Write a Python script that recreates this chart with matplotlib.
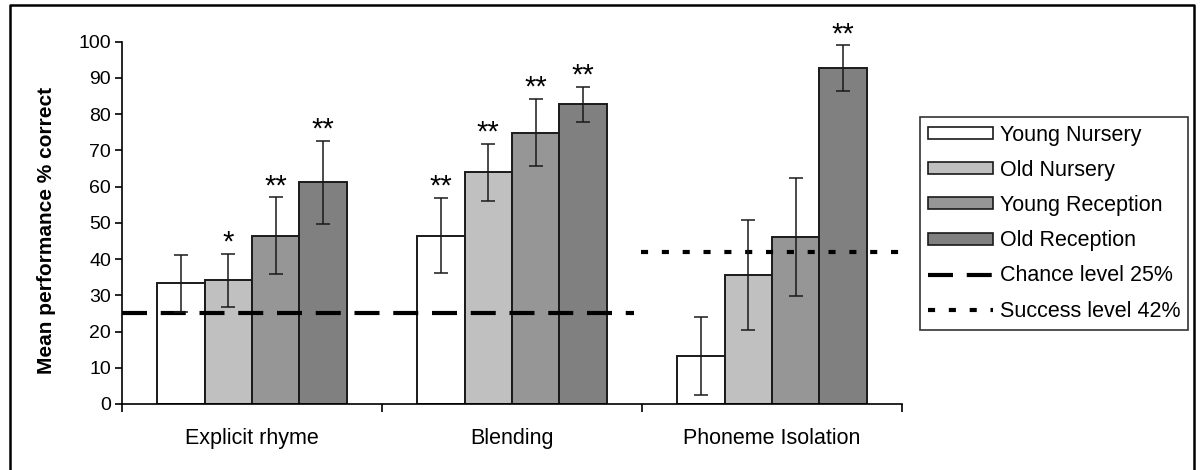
import matplotlib
matplotlib.use("Agg")
import matplotlib.pyplot as plt
import numpy as np
from matplotlib.lines import Line2D
from matplotlib.patches import Patch

plt.rcParams['font.family'] = ['Liberation Sans', 'DejaVu Sans']

# Data
tasks = ["Explicit rhyme", "Blending", "Phoneme Isolation"]
groups = ["Young Nursery", "Old Nursery", "Young Reception", "Old Reception"]
means = {
    "Young Nursery":   [33.3, 46.5, 13.2],
    "Old Nursery":     [34.2, 63.9, 35.6],
    "Young Reception": [46.5, 74.9, 46.1],
    "Old Reception":   [61.2, 82.7, 92.7],
}
errors = {
    "Young Nursery":   [7.8, 10.3, 10.8],
    "Old Nursery":     [7.3, 8.0, 15.1],
    "Young Reception": [10.5, 9.3, 16.4],
    "Old Reception":   [11.5, 4.8, 6.3],
}
stars = {
    "Young Nursery":   ["", "**", ""],
    "Old Nursery":     ["*", "**", ""],
    "Young Reception": ["**", "**", ""],
    "Old Reception":   ["**", "**", "**"],
}
chance_level = 25
success_level = 42

colors = ["#ffffff", "#c0c0c0", "#969696", "#808080"]

fig = plt.figure(figsize=(12, 4.7), dpi=100)
ax = fig.add_axes([122/1200, 1-404/470, 780/1200, (404-41.7)/470])

x = np.arange(len(tasks))
w = 0.182
for i, g in enumerate(groups):
    pos = x + (i - 1.5) * w
    ax.bar(pos, means[g], width=w, color=colors[i], edgecolor="#1a1a1a",
           linewidth=1.4, zorder=2)
    ax.errorbar(pos, means[g], yerr=errors[g], fmt="none", ecolor="#1a1a1a",
                elinewidth=1.1, capsize=5, capthick=1.1, zorder=4)
    for xp, m, e, s in zip(pos, means[g], errors[g], stars[g]):
        if s:
            ax.annotate(s, (xp, m + e), xytext=(0, -2), textcoords="offset points",
                        ha="center", va="bottom", fontsize=21, zorder=5)

# Reference levels
ax.hlines(chance_level, -0.5, 1.47, colors="black", linewidth=3,
          linestyles=[(0, (6, 3.3))], zorder=3)
ax.hlines(success_level, 1.496, 2.5, colors="black", linewidth=3,
          linestyles=[(0, (1.7, 3.3))], zorder=3)

ax.set_xlim(-0.5, 2.5)
ax.set_ylim(0, 100)
ax.set_yticks(np.arange(0, 101, 10))
ax.tick_params(axis="y", direction="out", length=5, width=1.2, labelsize=14, pad=3)
ax.set_xticks([-0.5, 0.5, 1.5, 2.5])
ax.set_xticklabels([])
ax.tick_params(axis="x", which="major", direction="out", length=6, width=1.2)
ax.set_xticks(x, minor=True)
ax.set_xticklabels(tasks, minor=True, fontsize=15.5)
ax.tick_params(axis="x", which="minor", length=0, pad=17)

for side in ("top", "right"):
    ax.spines[side].set_visible(False)
for side in ("left", "bottom"):
    ax.spines[side].set_linewidth(1.2)

ax.set_ylabel("Mean performance % correct", fontsize=15, fontweight="bold")
ax.yaxis.set_label_coords(-0.084, 0.48)

handles = [Patch(facecolor=c, edgecolor="#1a1a1a", linewidth=1.2) for c in colors]
handles += [
    Line2D([], [], color="black", linewidth=3, linestyle=(0, (6, 3.3))),
    Line2D([], [], color="black", linewidth=3, linestyle=(0, (1.7, 3.3))),
]
labels = groups + ["Chance level 25%", "Success level 42%"]
leg = fig.legend(handles, labels, loc="upper left",
                 bbox_to_anchor=(920/1200, 1-116.7/470), fontsize=15.5,
                 frameon=True, fancybox=False, edgecolor="black",
                 handlelength=3.0, handleheight=0.47, handletextpad=0.33,
                 labelspacing=0.66, borderpad=0.37, borderaxespad=0)
leg.get_frame().set_linewidth(1.2)

# Surrounding frame
fx0, fx1, fy = 10/1200, 1194/1200, 1-5/470
fig.add_artist(Line2D([fx0, fx0, fx1, fx1], [0, fy, fy, 0], transform=fig.transFigure,
                      color="black", linewidth=1.8))

fig.savefig("out.png", dpi=100)
